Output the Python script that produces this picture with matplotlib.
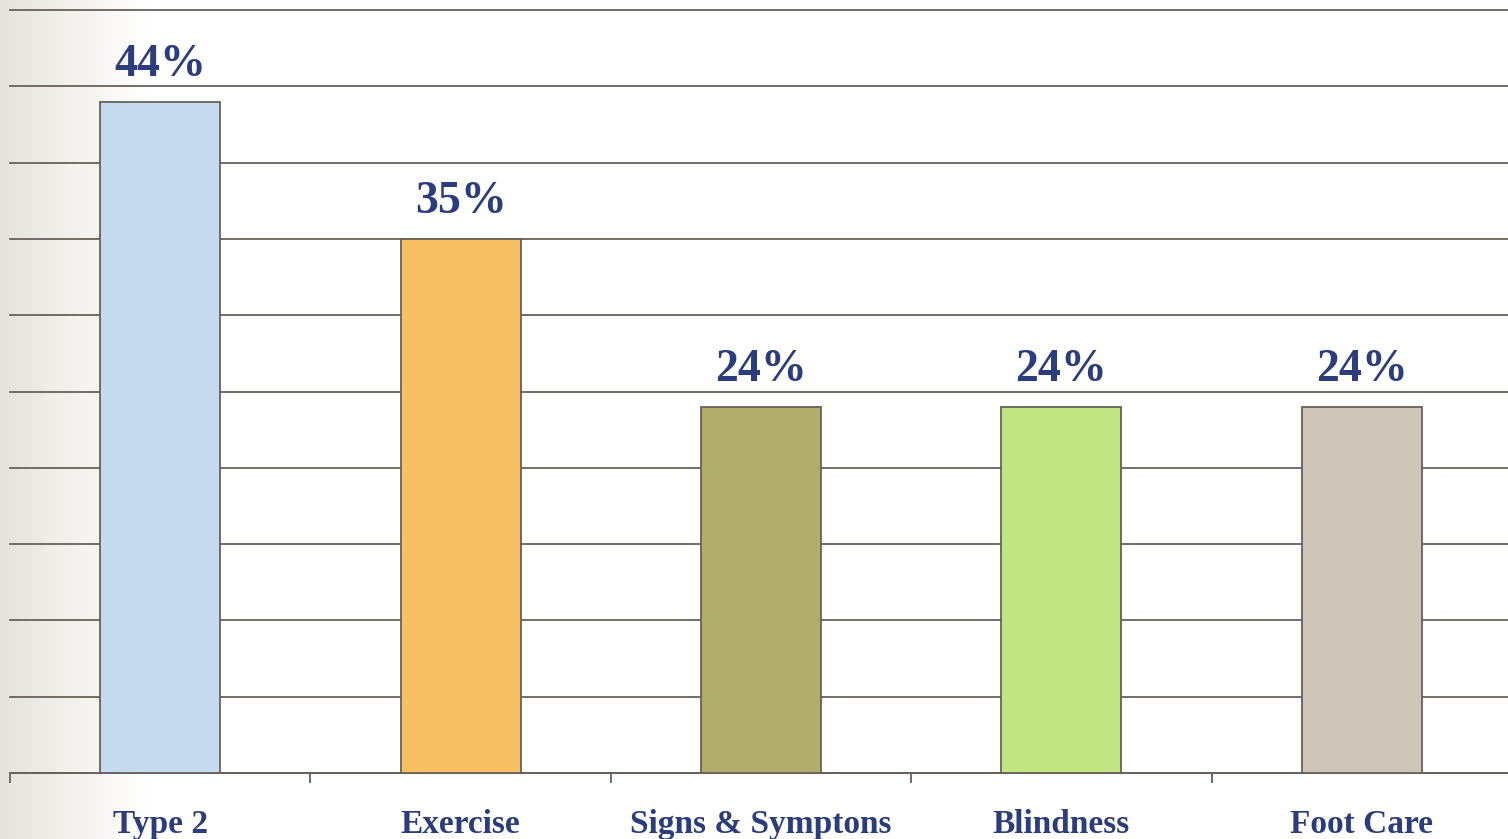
import matplotlib
matplotlib.use("Agg")
import matplotlib.pyplot as plt
import numpy as np

categories = ["Type 2", "Exercise", "Signs & Symptons", "Blindness", "Foot Care"]
percentages = [44, 35, 24, 24, 24]
bar_colors = ["#C6DBF0", "#F7C063", "#B0AE6A", "#C2E584", "#CEC6B8"]

text_color = "#2C3D7E"
line_color = "#67615A"
W, H = 1508, 839

fig = plt.figure(figsize=(W / 100, H / 100), dpi=100)

# soft gradient strip on the left edge
bg = fig.add_axes([0, 0, 1, 1], zorder=0)
x = np.linspace(0, 1, W)
fade = np.clip(1 - x * W / 150, 0, 1) ** 1.1
left = np.array([0.90, 0.89, 0.86])
rgb = 1 - fade[:, None] * (1 - left[None, :])
bg.imshow(np.tile(rgb[None, :, :], (H, 1, 1)), aspect="auto", extent=[0, 1, 0, 1])
bg.axis("off")

ax = fig.add_axes([10 / W, 1 - 773 / H, (1512 - 10) / W, (773 - 10) / H], zorder=1)
ax.patch.set_alpha(0)

xs = np.arange(len(categories))
ax.bar(xs, percentages, width=0.4, color=bar_colors, edgecolor=line_color,
       linewidth=1.3, zorder=3)

for xi, v in zip(xs, percentages):
    ax.annotate(f"{v}%", (xi, v), xytext=(0, 18.5), textcoords="offset points",
                ha="center", va="baseline", fontsize=33, fontweight="bold",
                family="Liberation Serif", color=text_color)

ax.set_xlim(-0.5, len(categories) - 0.5)
ax.set_ylim(0, 50)
ax.set_yticks(np.arange(0, 51, 5))
ax.yaxis.grid(True, color=line_color, linewidth=1.3)
for gl in ax.get_ygridlines():
    gl.set_clip_on(False)
ax.set_axisbelow(True)
ax.tick_params(axis="y", length=0, labelleft=False)

ax.set_xticks(xs)
ax.set_xticklabels(categories, fontsize=24, fontweight="bold",
                   family="Liberation Serif", color=text_color)
ax.set_xticks(np.arange(-0.5, len(categories), 1), minor=True)
ax.tick_params(axis="x", which="major", length=0, pad=26)
ax.tick_params(axis="x", which="minor", length=7.5, width=1.3, color=line_color)

for side in ["left", "right", "top"]:
    ax.spines[side].set_visible(False)
ax.spines["bottom"].set_color(line_color)
ax.spines["bottom"].set_linewidth(1.3)

fig.savefig("out.png", dpi=100)
